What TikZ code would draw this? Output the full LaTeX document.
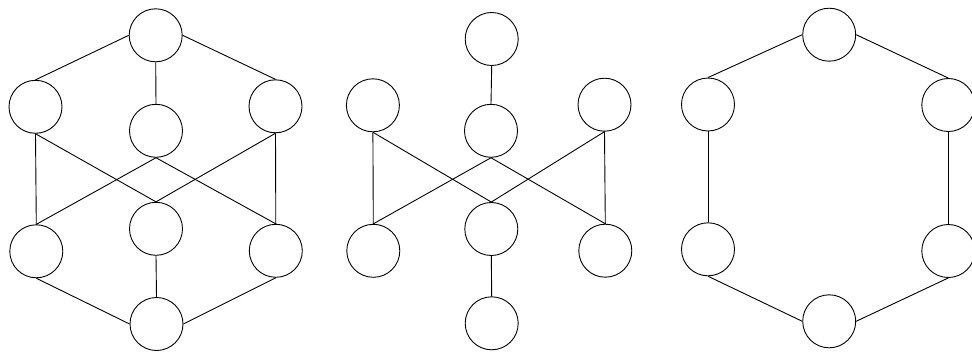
\documentclass[tikz,border=0pt]{standalone}
\begin{document}
\begin{tikzpicture}[x=1pt,y=-1pt,
  vtx/.style={circle,draw,line width=0.9pt,minimum size=53pt,inner sep=0pt},
  edge/.style={line width=0.9pt}]
\useasboundingbox (0,0) rectangle (972,351);
% graph 1
\node[vtx] (at) at (155.7,35.3) {};
\node[vtx] (alu) at (35.5,106.8) {};
\node[vtx] (amu) at (156,130.8) {};
\node[vtx] (aru) at (275.5,106.3) {};
\node[vtx] (all) at (36.3,251.3) {};
\node[vtx] (aml) at (156,228.8) {};
\node[vtx] (arl) at (275.8,250.8) {};
\node[vtx] (ab) at (156.5,324) {};
\draw[edge] (at.west) -- (alu.north);
\draw[edge] (at.east) -- (aru.north);
\draw[edge] (at.south) -- (amu.north);
\draw[edge] (alu.south) -- (all.north);
\draw[edge] (alu.south) -- (aml.north);
\draw[edge] (amu.south) -- (all.north);
\draw[edge] (amu.south) -- (arl.north);
\draw[edge] (aru.south) -- (aml.north);
\draw[edge] (aru.south) -- (arl.north);
\draw[edge] (aml.south) -- (ab.north);
\draw[edge] (all.south) -- (ab.west);
\draw[edge] (arl.south) -- (ab.east);
% graph 2
\node[vtx] (bt) at (491.7,39) {};
\node[vtx] (blu) at (372.9,105.3) {};
\node[vtx] (bmu) at (491,130.8) {};
\node[vtx] (bru) at (604.5,104.7) {};
\node[vtx] (bll) at (373.3,250.8) {};
\node[vtx] (bml) at (491.3,229) {};
\node[vtx] (brl) at (605.3,250.7) {};
\node[vtx] (bb) at (491.7,323.3) {};
\draw[edge] (bt.south) -- (bmu.north);
\draw[edge] (blu.south) -- (bll.north);
\draw[edge] (blu.south) -- (bml.north);
\draw[edge] (bmu.south) -- (bll.north);
\draw[edge] (bmu.south) -- (brl.north);
\draw[edge] (bru.south) -- (bml.north);
\draw[edge] (bru.south) -- (brl.north);
\draw[edge] (bml.south) -- (bb.north);
% graph 3
\node[vtx] (ct) at (829.2,34.7) {};
\node[vtx] (clu) at (708,104.5) {};
\node[vtx] (cru) at (948.3,105) {};
\node[vtx] (cll) at (708,249.3) {};
\node[vtx] (crl) at (948.3,251) {};
\node[vtx] (cb) at (829.2,321.3) {};
\draw[edge] (ct.west) -- (clu.north);
\draw[edge] (ct.east) -- (cru.north);
\draw[edge] (clu.south) -- (cll.north);
\draw[edge] (cru.south) -- (crl.north);
\draw[edge] (cll.south) -- (cb.west);
\draw[edge] (crl.south) -- (cb.east);
\end{tikzpicture}
\end{document}
